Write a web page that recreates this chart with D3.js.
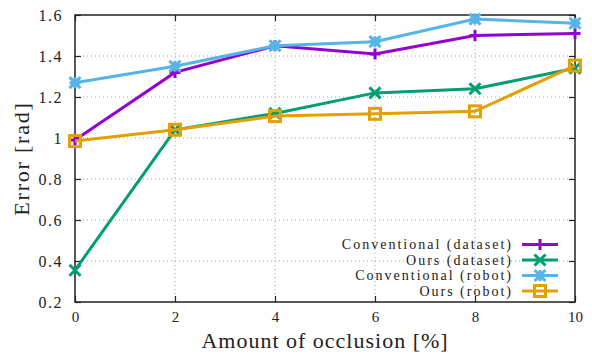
<!DOCTYPE html>
<html>
<head>
<meta charset="utf-8">
<script src="https://cdn.jsdelivr.net/npm/d3@7"></script>
<style>
body{margin:0;background:#fff;}
text{font-family:"Liberation Serif","DejaVu Serif",serif;fill:#222;}
</style>
</head>
<body>
<div id="chart"></div>
<script>
// data
var occlusion = [0, 2, 4, 6, 8, 10];
var convDataset = [0.99, 1.32, 1.45, 1.41, 1.50, 1.51];
var oursDataset = [0.355, 1.04, 1.12, 1.22, 1.24, 1.34];
var convRobot = [1.27, 1.35, 1.45, 1.47, 1.58, 1.56];
var oursRobot = [0.985, 1.04, 1.107, 1.118, 1.13, 1.353];
var seriesNames = ["Conventional (dataset)", "Ours (dataset)", "Conventional (robot)", "Ours (robot)"];
var xTicks = [0, 2, 4, 6, 8, 10];
var yTicks = [0.2, 0.4, 0.6, 0.8, 1, 1.2, 1.4, 1.6];

var colors = ["#9400d3", "#009e73", "#56b4e9", "#e69f00"];
var markers = ["plus", "cross", "star", "square"];
var allSeries = [convDataset, oursDataset, convRobot, oursRobot];

var width = 592, height = 354;
var margin = {top: 15, right: 17, bottom: 52, left: 75};

var svg = d3.select("#chart").append("svg")
  .attr("width", width).attr("height", height);

var eX = d3.scaleLinear().domain([0, 10]).range([margin.left, width - margin.right]);
var eY = d3.scaleLinear().domain([0.2, 1.6]).range([height - margin.bottom, margin.top]);

// grid
svg.append("g").selectAll("line").data(yTicks.slice(1, -1)).enter().append("line")
  .attr("x1", eX(0)).attr("x2", eX(10))
  .attr("y1", function(d){return eY(d);}).attr("y2", function(d){return eY(d);})
  .attr("stroke", "#a0a0a0").attr("stroke-width", 1).attr("stroke-dasharray", "1,3");
svg.append("g").selectAll("line").data(xTicks.slice(1, -1)).enter().append("line")
  .attr("y1", eY(0.2)).attr("y2", eY(1.6))
  .attr("x1", function(d){return eX(d);}).attr("x2", function(d){return eX(d);})
  .attr("stroke", "#a0a0a0").attr("stroke-width", 1).attr("stroke-dasharray", "1,3");

// axes (ticks inward, on all sides)
var fmtY = function(d){ return d === 1 ? "1" : d3.format(".1f")(d); };
var xAxis = d3.axisBottom(eX).tickValues(xTicks).tickSizeInner(-6).tickSizeOuter(0).tickPadding(9);
var yAxis = d3.axisLeft(eY).tickValues(yTicks).tickSizeInner(-6).tickSizeOuter(0).tickPadding(12).tickFormat(fmtY);
var gx = svg.append("g").attr("transform", "translate(0," + eY(0.2) + ")").call(xAxis);
var gy = svg.append("g").attr("transform", "translate(" + eX(0) + ",0)").call(yAxis);
svg.append("g").attr("transform", "translate(0," + eY(1.6) + ")")
  .call(d3.axisTop(eX).tickValues(xTicks).tickSizeInner(-6).tickSizeOuter(0).tickFormat(""));
svg.append("g").attr("transform", "translate(" + eX(10) + ",0)")
  .call(d3.axisRight(eY).tickValues(yTicks).tickSizeInner(-6).tickSizeOuter(0).tickFormat(""));
svg.selectAll(".domain").remove();
svg.selectAll(".tick line").attr("stroke", "#222").attr("stroke-width", 1.2);
gx.selectAll("text").style("font-size", "15px").attr("font-family", "Liberation Serif");
gy.selectAll("text").style("font-size", "16px").attr("font-family", "Liberation Serif")
  .style("letter-spacing", "1.5px").attr("dy", "0.35em");

// frame
svg.append("rect")
  .attr("x", eX(0)).attr("y", eY(1.6))
  .attr("width", eX(10) - eX(0)).attr("height", eY(0.2) - eY(1.6))
  .attr("fill", "none").attr("stroke", "#222").attr("stroke-width", 1.5);

// markers
function drawMarker(g, type, x, y, color) {
  var s = 5.5;
  if (type == "plus") {
    g.append("path").attr("d", "M" + (x - s) + "," + y + "H" + (x + s) + "M" + x + "," + (y - s) + "V" + (y + s))
      .attr("stroke", color).attr("stroke-width", 3).attr("fill", "none");
  } else if (type == "cross") {
    g.append("path").attr("d", "M" + (x - s) + "," + (y - s) + "L" + (x + s) + "," + (y + s) + "M" + (x - s) + "," + (y + s) + "L" + (x + s) + "," + (y - s))
      .attr("stroke", color).attr("stroke-width", 3).attr("fill", "none");
  } else if (type == "star") {
    g.append("path").attr("d", "M" + (x - s) + "," + y + "H" + (x + s) + "M" + x + "," + (y - s) + "V" + (y + s) +
        "M" + (x - s) + "," + (y - s) + "L" + (x + s) + "," + (y + s) + "M" + (x - s) + "," + (y + s) + "L" + (x + s) + "," + (y - s))
      .attr("stroke", color).attr("stroke-width", 3).attr("fill", "none");
  } else {
    g.append("rect").attr("x", x - s).attr("y", y - s).attr("width", 2 * s).attr("height", 2 * s)
      .attr("stroke", color).attr("stroke-width", 3).attr("fill", "none");
  }
}

var line = d3.line()
  .x(function(d, i){ return eX(occlusion[i]); })
  .y(function(d){ return eY(d); });

allSeries.forEach(function(vals, k) {
  var g = svg.append("g");
  g.append("path").datum(vals).attr("d", line)
    .attr("fill", "none").attr("stroke", colors[k]).attr("stroke-width", 3);
  vals.forEach(function(v, i) {
    drawMarker(g, markers[k], eX(occlusion[i]), eY(v), colors[k]);
  });
});

// legend
var legend = svg.append("g");
seriesNames.forEach(function(name, k) {
  var ly = 244.5 + k * 15.5;
  legend.append("text").attr("x", 513).attr("y", ly).attr("dy", "0.35em")
    .attr("text-anchor", "end").style("font-size", "14px").style("letter-spacing", "2px").text(name);
  legend.append("line").attr("x1", 522).attr("x2", 558).attr("y1", ly).attr("y2", ly)
    .attr("stroke", colors[k]).attr("stroke-width", 3);
  drawMarker(legend, markers[k], 540, ly, colors[k]);
});

// axis titles
svg.append("text").attr("x", (eX(0) + eX(10)) / 2).attr("y", 348)
  .attr("text-anchor", "middle").style("font-size", "22px").style("letter-spacing", "1px")
  .text("Amount of occlusion [%]");
svg.append("text").attr("transform", "translate(29," + ((eY(0.2) + eY(1.6)) / 2) + ") rotate(-90)")
  .attr("text-anchor", "middle").style("font-size", "22px").style("letter-spacing", "1.8px")
  .text("Error [rad]");
</script>
</body>
</html>
